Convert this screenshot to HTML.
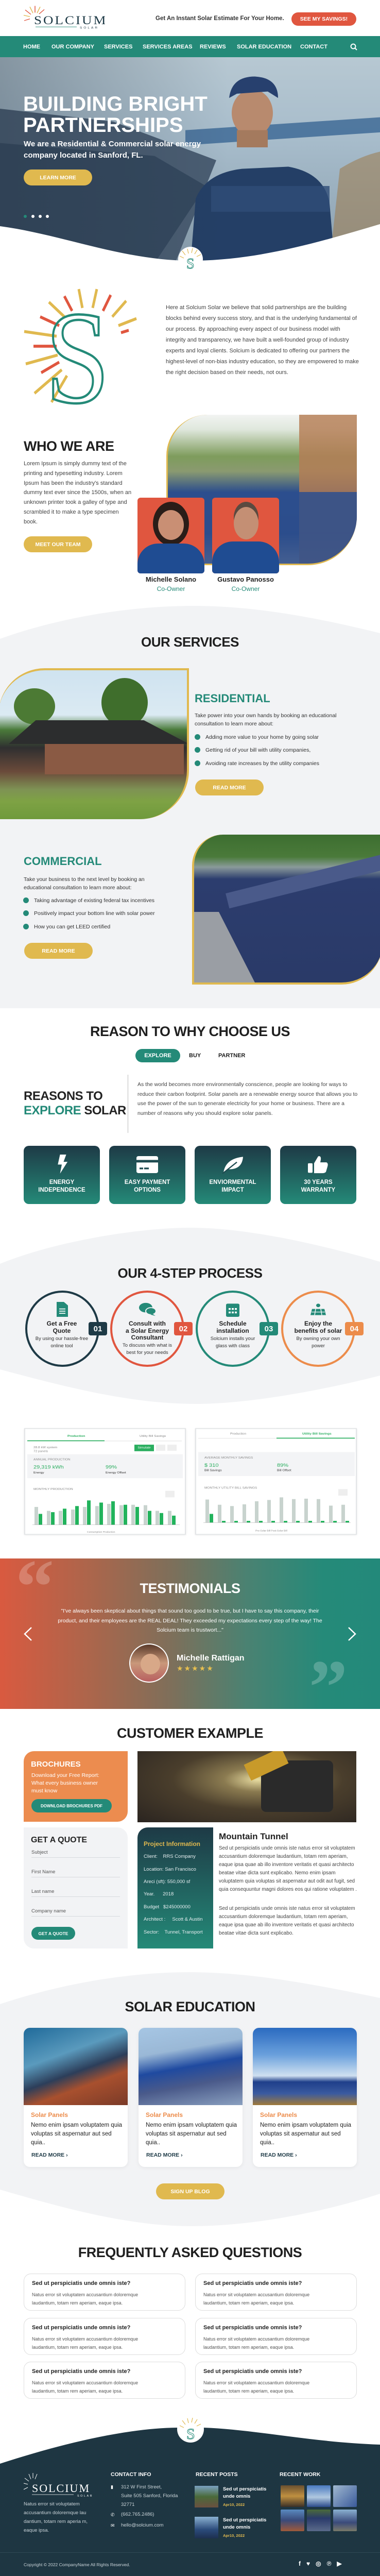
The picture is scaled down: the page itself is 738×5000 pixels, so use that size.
<!DOCTYPE html>
<html><head><meta charset="utf-8">
<style>
*{margin:0;padding:0;box-sizing:border-box}
body{width:738px;height:5000px;position:relative;background:#fff;font-family:"Liberation Sans",sans-serif;color:#222;overflow:hidden}
.a{position:absolute}
.h2{position:absolute;left:0;width:738px;text-align:center;font-weight:bold;font-size:26px;color:#1f1f1f;letter-spacing:-0.5px}
.btn{position:absolute;border-radius:20px;background:#e0b94f;color:#fff;font-weight:bold;font-size:10.5px;text-align:center;display:flex;align-items:center;justify-content:center}
.nav{position:absolute;top:85px;color:#fff;font-weight:bold;font-size:11px}
.bl{position:absolute;font-size:10.5px;color:#333}
.bl:before{content:"";position:absolute;left:-21px;top:0px;width:11px;height:11px;border-radius:50%;background:#248a78}
.card4{position:absolute;top:2224px;width:148px;height:113px;border-radius:10px;background:linear-gradient(#1e3a46,#248a78);color:#fff;font-weight:bold;font-size:11.5px;text-align:center}
.card4 .t{position:absolute;top:64px;width:100%;line-height:15px}
.circ{position:absolute;top:2505px;width:144px;height:148px;border-radius:50%;border:4px solid}
.ct{position:absolute;width:150px;text-align:center;font-size:12px;font-weight:bold;line-height:13.5px;color:#1f1f1f}
.cd{position:absolute;width:150px;text-align:center;font-size:9.5px;line-height:14px;color:#333}
.badge{position:absolute;top:2566px;width:36px;height:26px;border-radius:4px;color:#fff;font-weight:bold;font-size:15px;display:flex;align-items:center;justify-content:center}
.faq{position:absolute;width:314px;height:72px;border:1px solid #ddd;border-radius:14px;background:#fff}
.faq b{position:absolute;left:15px;top:12px;font-size:11px;color:#222}
.faq span{position:absolute;left:15px;top:33px;font-size:9px;color:#555;line-height:15.5px}
.ecard{position:absolute;top:3936px;width:202px;height:270px;background:#fff;border-radius:12px;overflow:hidden;box-shadow:0 2px 8px rgba(0,0,0,.06)}
.ecard .im{position:absolute;left:0;top:0;width:100%;height:150px}
.ecard .s{position:absolute;left:14px;top:162px;color:#ec8c4b;font-weight:bold;font-size:12px}
.ecard .x{position:absolute;left:14px;top:181px;font-size:11.5px;line-height:17px;color:#222;width:185px}
.ecard .r{position:absolute;left:15px;top:241px;font-size:10.5px;color:#1e3a46;font-weight:bold}
.fl{position:absolute;left:61px;width:172px;font-size:9.5px;color:#555}
.fl:after{content:"";position:absolute;left:0;top:15px;width:172px;height:1px;background:#d7d9dd}
.pi{position:absolute;left:279px;font-size:9.5px;color:#e6eef0}
.chart{position:absolute;top:2772px;width:314px;height:245px;background:#fff;border:2px solid #e3e5e7;box-shadow:0 1px 4px rgba(0,0,0,.1);transform:scaleY(.845);transform-origin:top}
.sm{font-size:6.5px;color:#888}
.fw{position:absolute;width:46px;height:42px;border-radius:2px}
</style></head><body>

<!-- HEADER -->
<svg class="a" style="left:44px;top:8px" width="160" height="52" viewBox="0 0 160 60" preserveAspectRatio="none">
 <g stroke-width="1.5">
  <line x1="20" y1="20" x2="14" y2="6" stroke="#e0b94f"/><line x1="24" y1="19" x2="24" y2="4" stroke="#e0563f"/><line x1="28" y1="20" x2="34" y2="6" stroke="#e0b94f"/>
  <line x1="16" y1="23" x2="5" y2="13" stroke="#e0563f"/><line x1="14" y1="28" x2="2" y2="25" stroke="#e0b94f"/><line x1="14" y1="33" x2="3" y2="37" stroke="#e0563f"/><line x1="32" y1="22" x2="42" y2="12" stroke="#e0563f"/>
 </g>
 <text x="22" y="45" font-family="Liberation Serif,serif" font-size="27" fill="#1e3a46" letter-spacing="3">SOLCIUM</text>
 <line x1="25" y1="51" x2="105" y2="51" stroke="#248a78" stroke-width="1"/>
 <text x="111" y="55" font-family="Liberation Sans,sans-serif" font-size="6.5" fill="#1e3a46" letter-spacing="3">SOLAR</text>
</svg>
<div class="a" style="left:302px;top:30px;font-size:11.5px;font-weight:bold;color:#333">Get An Instant Solar Estimate For Your Home.</div>
<div class="btn" style="left:566px;top:24px;width:126px;height:26px;background:#e0563f;font-size:10.5px">SEE MY SAVINGS!</div>
<div class="a" style="left:0;top:70px;width:738px;height:41px;background:#248a78"></div>
<div class="nav" style="left:45px">HOME</div><div class="nav" style="left:100px">OUR COMPANY</div><div class="nav" style="left:202px">SERVICES</div><div class="nav" style="left:277px">SERVICES AREAS</div><div class="nav" style="left:388px">REVIEWS</div><div class="nav" style="left:460px">SOLAR EDUCATION</div><div class="nav" style="left:583px">CONTACT</div>
<svg class="a" style="left:680px;top:84px" width="14" height="14"><circle cx="6" cy="6" r="4.5" stroke="#fff" stroke-width="2" fill="none"/><line x1="9" y1="9" x2="13" y2="13" stroke="#fff" stroke-width="2"/></svg>

<!-- HERO -->
<div class="a" style="left:0;top:111px;width:738px;height:400px;overflow:hidden;background:linear-gradient(180deg,#b7c8d2 0%,#a7bccb 40%,#8a9fae 100%)">
 <svg class="a" style="left:0;top:0" width="738" height="400" viewBox="0 0 738 480" preserveAspectRatio="none">
  <polygon points="0,120 220,150 420,240 340,480 0,480" fill="#4a5d72"/>
  <polygon points="0,200 300,230 400,300 300,480 0,480" fill="#34485e"/>
  <polygon points="360,170 738,140 738,175 360,205" fill="#2a5a8c" opacity=".7"/>
  <path d="M370 480 L380 330 Q400 270 470 260 L560 255 Q630 270 640 340 L650 480Z" fill="#243f66"/>
  <rect x="410" y="300" width="230" height="60" fill="#2f4d78" opacity=".8"/>
  <ellipse cx="490" cy="130" rx="40" ry="55" fill="#b88a6e"/>
  <path d="M445 95 Q450 45 495 45 Q540 48 540 95 L520 80 L460 85Z" fill="#27406e"/>
  <rect x="460" y="170" width="60" height="40" fill="#a47a5e"/>
  <path d="M640 480 L660 260 Q700 230 738 220 L738 480Z" fill="#9c7e55" opacity=".6"/>
 </svg>
 <div class="a" style="left:0;top:0;width:738px;height:400px;background:linear-gradient(90deg,rgba(40,55,70,.35),rgba(40,55,70,0) 60%)"></div>
</div>
<div class="a" style="left:45px;top:182px;color:#fff;font-weight:bold;font-size:40px;line-height:41px">BUILDING BRIGHT<br>PARTNERSHIPS</div>
<div class="a" style="left:46px;top:269px;color:#fff;font-weight:bold;font-size:15px;line-height:22px">We are a Residential &amp; Commercial solar energy<br>company located in Sanford, FL.</div>
<div class="btn" style="left:46px;top:329px;width:133px;height:31px">LEARN MORE</div>
<div class="a" style="left:46px;top:417px;width:6px;height:6px;border-radius:50%;background:#248a78"></div>
<div class="a" style="left:61px;top:417px;width:6px;height:6px;border-radius:50%;background:#fff"></div>
<div class="a" style="left:75px;top:417px;width:6px;height:6px;border-radius:50%;background:#fff"></div>
<div class="a" style="left:89px;top:417px;width:6px;height:6px;border-radius:50%;background:#fff"></div>
<svg class="a" style="left:0;top:420px" width="738" height="120" viewBox="0 420 738 120">
 <path d="M0 439 C120 455 240 506 370 506 C500 506 620 470 738 435 L738 540 L0 540Z" fill="#fff"/>
 <circle cx="370" cy="503" r="24" fill="#fff"/>
 <g stroke="#e0b94f" stroke-width="1.2"><line x1="360" y1="495" x2="354" y2="487"/><line x1="366" y1="492" x2="364" y2="483"/><line x1="372" y1="491" x2="374" y2="482"/><line x1="378" y1="493" x2="383" y2="485"/><line x1="357" y1="501" x2="349" y2="497"/><line x1="382" y1="498" x2="390" y2="494"/></g>
 <text x="362" y="521" font-family="Liberation Serif,serif" font-size="28" fill="none" stroke="#248a78" stroke-width="1">S</text>
</svg>

<!-- ABOUT -->
<svg class="a" style="left:40px;top:552px" width="240" height="240" viewBox="0 0 240 210" preserveAspectRatio="none">
 <g stroke-width="5">
  <line x1="120" y1="40" x2="113" y2="8" stroke="#e0b94f"/><line x1="140" y1="40" x2="148" y2="8" stroke="#e0b94f"/><line x1="100" y1="45" x2="85" y2="20" stroke="#e0563f"/><line x1="160" y1="45" x2="175" y2="18" stroke="#e0563f"/>
  <line x1="85" y1="55" x2="55" y2="30" stroke="#e0b94f"/><line x1="178" y1="55" x2="205" y2="28" stroke="#e0b94f"/><line x1="75" y1="70" x2="38" y2="55" stroke="#e0563f"/><line x1="190" y1="70" x2="225" y2="58" stroke="#e0b94f"/>
  <line x1="70" y1="88" x2="7" y2="80" stroke="#e0b94f"/><line x1="70" y1="105" x2="25" y2="105" stroke="#e0563f"/><line x1="72" y1="120" x2="10" y2="135" stroke="#e0b94f"/><line x1="75" y1="132" x2="40" y2="150" stroke="#e0563f"/>
  <line x1="80" y1="145" x2="27" y2="185" stroke="#e0b94f"/><line x1="90" y1="155" x2="60" y2="200" stroke="#e0b94f"/><line x1="195" y1="82" x2="210" y2="78" stroke="#e0563f"/>
 </g>
 <text x="48" y="200" font-family="Liberation Serif,serif" font-size="225" fill="none" stroke="#248a78" stroke-width="4">S</text>
</svg>
<div class="a" style="left:322px;top:587px;width:380px;font-size:11px;line-height:21px;color:#444">Here at Solcium Solar we believe that solid partnerships are the building blocks behind every success story, and that is the underlying fundamental of our process. By approaching every aspect of our business model with integrity and transparency, we have built a well-founded group of industry experts and loyal clients. Solcium is dedicated to offering our partners the highest-level of non-bias industry education, so they are empowered to make the right decision based on their needs, not ours.</div>

<!-- WHO WE ARE -->
<div class="a" style="left:46px;top:851px;font-size:27px;font-weight:bold;color:#1f1f1f;letter-spacing:-0.5px">WHO WE ARE</div>
<div class="a" style="left:46px;top:891px;width:210px;font-size:11px;line-height:18.8px;color:#444">Lorem Ipsum is simply dummy text of the  printing and typesetting industry. Lorem Ipsum has been the industry's standard dummy text ever since the 1500s, when an unknown printer took a galley of type and scrambled it to make  a type specimen book.</div>
<div class="btn" style="left:46px;top:1041px;width:133px;height:31px">MEET OUR TEAM</div>
<div class="a" style="left:323px;top:805px;width:370px;height:292px;border-left:3px solid #e0b94f;border-bottom:3px solid #e0b94f;border-radius:80px 0 95px 0;overflow:hidden;background:linear-gradient(180deg,#f2f4f2 0%,#dfe7dc 10%,#7e9c5c 28%,#8a9a70 38%,#2c4e8c 52%,#27447c 80%,#c9b8a0 100%)">
 <div class="a" style="left:255px;top:0;width:115px;height:292px;background:linear-gradient(#b8825a,#a9744e);opacity:.85"></div>
 <div class="a" style="left:0;top:150px;width:370px;height:145px;background:#2d4f8e;opacity:.85"></div>
</div>
<div class="a" style="left:267px;top:966px;width:130px;height:147px;border-radius:6px;overflow:hidden;background:#e0563f">
 <div class="a" style="left:30px;top:8px;width:70px;height:85px;border-radius:50%;background:#2a1d18"></div>
 <div class="a" style="left:40px;top:24px;width:50px;height:58px;border-radius:50%;background:#c98f74"></div>
 <div class="a" style="left:0;top:89px;width:130px;height:60px;border-radius:40px 40px 0 0;background:#1f4c92"></div>
</div>
<div class="a" style="left:412px;top:966px;width:130px;height:147px;border-radius:6px;overflow:hidden;background:#e0563f">
 <div class="a" style="left:42px;top:8px;width:48px;height:60px;border-radius:50%;background:#5a4a40"></div>
 <div class="a" style="left:42px;top:18px;width:48px;height:63px;border-radius:50%;background:#c48f74"></div>
 <div class="a" style="left:0;top:85px;width:130px;height:63px;border-radius:40px 40px 0 0;background:#1f4c92"></div>
</div>
<div class="a" style="left:267px;top:1117px;width:130px;text-align:center;font-size:13px;font-weight:bold;color:#222">Michelle Solano</div>
<div class="a" style="left:267px;top:1136px;width:130px;text-align:center;font-size:12px;color:#248a78">Co-Owner</div>
<div class="a" style="left:412px;top:1117px;width:130px;text-align:center;font-size:13px;font-weight:bold;color:#222">Gustavo Panosso</div>
<div class="a" style="left:412px;top:1136px;width:130px;text-align:center;font-size:12px;color:#248a78">Co-Owner</div>

<!-- SERVICES -->
<svg class="a" style="left:0;top:1170px" width="738" height="790" viewBox="0 1170 738 790">
 <path d="M0 1240 C110 1200 250 1176 375 1176 C510 1176 640 1205 738 1229 L738 1957 L0 1957Z" fill="#f2f3f5"/>
</svg>
<div class="h2" style="top:1231px">OUR SERVICES</div>
<div class="a" style="left:-3px;top:1297px;width:370px;height:293px;border-top:4px solid #e0b94f;border-right:4px solid #e0b94f;border-radius:90px 0 95px 0;overflow:hidden;background:linear-gradient(180deg,#cfe3f0 0%,#dbeaf3 30%,#4a7a3a 40%,#2f2f30 52%,#6a4a3a 68%,#7e9254 80%,#7ea244 88%,#6f9a3c 100%)">
 <div class="a" style="left:200px;top:15px;width:90px;height:95px;border-radius:50%;background:#3f6e2c"></div>
 <div class="a" style="left:30px;top:35px;width:80px;height:70px;border-radius:50%;background:#4c7a34"></div>
 <div class="a" style="left:20px;top:97px;width:350px;height:46px;background:#2c2d2e;clip-path:polygon(15% 0,75% 0,100% 100%,0 100%)"></div>
 <div class="a" style="left:90px;top:143px;width:270px;height:59px;background:#8a5a44"></div>
</div>
<div class="a" style="left:378px;top:1343px;font-size:22px;font-weight:bold;color:#248a78">RESIDENTIAL</div>
<div class="a" style="left:378px;top:1381px;width:320px;font-size:10.5px;line-height:16px;color:#333">Take power into your own hands by booking an educational consultation to learn more about:</div>
<div class="bl" style="left:399px;top:1425px">Adding more value to your home by going solar</div>
<div class="bl" style="left:399px;top:1450px">Getting rid of your bill with utility companies,</div>
<div class="bl" style="left:399px;top:1476px">Avoiding rate increases by the utility companies</div>
<div class="btn" style="left:379px;top:1513px;width:133px;height:31px">READ MORE</div>

<div class="a" style="left:46px;top:1659px;font-size:22px;font-weight:bold;color:#248a78">COMMERCIAL</div>
<div class="a" style="left:46px;top:1699px;width:280px;font-size:10.5px;line-height:16px;color:#333">Take your business to the next level by booking an educational consultation to learn more about:</div>
<div class="bl" style="left:66px;top:1742px">Taking advantage of existing federal tax incentives</div>
<div class="bl" style="left:66px;top:1767px">Positively impact your bottom line with solar power</div>
<div class="bl" style="left:66px;top:1793px">How you can get LEED certified</div>
<div class="btn" style="left:47px;top:1830px;width:133px;height:31px">READ MORE</div>
<div class="a" style="left:373px;top:1620px;width:370px;height:291px;border-left:4px solid #e0b94f;border-bottom:4px solid #e0b94f;border-radius:60px 0 80px 0;overflow:hidden;background:linear-gradient(180deg,#3d6e30 0%,#4a7a3a 15%,#8a9a9a 22%,#2c3d6e 30%,#2a3a68 100%)">
 <div class="a" style="left:0;top:150px;width:120px;height:141px;background:#9a9ea4;clip-path:polygon(0 0,40% 0,100% 100%,0 100%)"></div>
 <div class="a" style="left:60px;top:75px;width:320px;height:30px;background:#4a5a8a;transform:rotate(-14deg)"></div>
</div>

<!-- REASONS -->
<div class="h2" style="top:1987px;font-size:27px">REASON TO WHY CHOOSE US</div>
<div class="btn" style="left:263px;top:2036px;width:87px;height:26px;background:#248a78;font-size:11px">EXPLORE</div>
<div class="a" style="left:367px;top:2043px;font-size:11px;font-weight:bold;color:#222">BUY</div>
<div class="a" style="left:424px;top:2043px;font-size:11px;font-weight:bold;color:#222">PARTNER</div>
<div class="a" style="left:46px;top:2114px;font-size:24px;font-weight:bold;color:#222;line-height:28px;letter-spacing:-0.5px">REASONS TO<br><span style="color:#248a78">EXPLORE</span> SOLAR</div>
<div class="a" style="left:248px;top:2086px;width:1px;height:113px;background:#bbb"></div>
<div class="a" style="left:267px;top:2096px;width:430px;font-size:10.5px;line-height:18.7px;color:#444">As the world becomes more environmentally conscience, people are looking for ways to reduce their carbon footprint. Solar panels are a renewable energy source that allows you to use the power of the sun to generate electricity for your home or business. There are a number of reasons why you should explore solar panels.</div>
<div class="card4" style="left:46px"><svg class="a" style="left:62px;top:17px" width="24" height="37" viewBox="0 0 28 42" preserveAspectRatio="none"><polygon points="10,0 24,0 18,16 27,16 10,42 14,22 5,22" fill="#fff"/></svg><div class="t">ENERGY<br>INDEPENDENCE</div></div>
<div class="card4" style="left:212px"><svg class="a" style="left:53px;top:20px" width="42" height="33" viewBox="0 0 42 40" preserveAspectRatio="none"><rect x="0" y="0" width="42" height="40" rx="4" fill="#fff"/><rect x="0" y="9" width="42" height="6" fill="#1e4b50"/><rect x="6" y="27" width="7" height="4" fill="#1e4b50"/><rect x="15" y="27" width="9" height="4" fill="#1e4b50"/></svg><div class="t">EASY PAYMENT<br>OPTIONS</div></div>
<div class="card4" style="left:378px"><svg class="a" style="left:52px;top:18px" width="44" height="36" viewBox="0 0 44 42" preserveAspectRatio="none"><path d="M4 40 Q8 8 42 4 Q40 34 12 32Z" fill="#fff"/><path d="M2 42 L30 16" stroke="#1e4b50" stroke-width="2.5"/></svg><div class="t">ENVIORMENTAL<br>IMPACT</div></div>
<div class="card4" style="left:544px"><svg class="a" style="left:54px;top:17px" width="40" height="37" viewBox="0 0 40 44" preserveAspectRatio="none"><rect x="0" y="20" width="9" height="22" rx="2" fill="#fff"/><path d="M12 20 L20 4 Q26 2 25 12 L24 18 L36 18 Q40 20 38 28 L35 40 Q33 43 28 43 L12 43Z" fill="#fff"/></svg><div class="t">30 YEARS<br>WARRANTY</div></div>

<!-- 4 STEP -->
<svg class="a" style="left:0;top:2375px" width="738" height="360" viewBox="0 2375 738 360">
 <path d="M0 2453 C120 2405 280 2383 370 2383 C480 2383 620 2415 738 2449 L738 2670 C620 2700 480 2725 380 2725 C250 2725 120 2690 0 2658Z" fill="#f2f3f5"/>
</svg>
<div class="h2" style="top:2456px">OUR 4-STEP PROCESS</div>
<div class="circ" style="left:49px;border-color:#1e3a46"></div>
<div class="circ" style="left:214px;border-color:#e0563f"></div>
<div class="circ" style="left:380px;border-color:#248a78"></div>
<div class="circ" style="left:546px;border-color:#ec8c4b"></div>
<div class="badge" style="left:172px;background:#1e3a46">01</div>
<div class="badge" style="left:338px;background:#e0563f">02</div>
<div class="badge" style="left:504px;background:#248a78">03</div>
<div class="badge" style="left:670px;background:#ec8c4b">04</div>
<svg class="a" style="left:110px;top:2527px" width="22" height="29" viewBox="0 0 22 34" preserveAspectRatio="none"><path d="M0 0 H14 L22 8 V34 H0Z" fill="#248a78"/><g stroke="#fff" stroke-width="2"><line x1="5" y1="16" x2="17" y2="16"/><line x1="5" y1="21" x2="17" y2="21"/><line x1="5" y1="26" x2="17" y2="26"/></g></svg>
<svg class="a" style="left:270px;top:2528px" width="34" height="27" viewBox="0 0 34 32" preserveAspectRatio="none"><ellipse cx="13" cy="12" rx="13" ry="11" fill="#248a78"/><ellipse cx="23" cy="20" rx="10" ry="8" fill="#248a78" stroke="#f2f3f5" stroke-width="2"/><polygon points="26,26 32,31 22,28" fill="#248a78"/></svg>
<svg class="a" style="left:439px;top:2527px" width="26" height="29" viewBox="0 0 26 34" preserveAspectRatio="none"><rect x="0" y="4" width="26" height="30" rx="3" fill="#248a78"/><g fill="#fff"><rect x="5" y="14" width="4" height="4"/><rect x="11" y="14" width="4" height="4"/><rect x="17" y="14" width="4" height="4"/><rect x="5" y="22" width="4" height="4"/><rect x="11" y="22" width="4" height="4"/><rect x="17" y="22" width="4" height="4"/></g></svg>
<svg class="a" style="left:603px;top:2527px" width="30" height="29" viewBox="0 0 30 34" preserveAspectRatio="none"><circle cx="15" cy="8" r="4" fill="#248a78"/><polygon points="3,16 27,16 30,30 0,30" fill="#248a78"/><g stroke="#f2f3f5" stroke-width="1.5"><line x1="10" y1="16" x2="8" y2="30"/><line x1="20" y1="16" x2="22" y2="30"/><line x1="2" y1="23" x2="28" y2="23"/></g></svg>
<div class="ct" style="left:45px;top:2563px">Get a Free<br>Quote</div><div class="cd" style="left:45px;top:2592px">By using our hassle-free<br>online tool</div>
<div class="ct" style="left:211px;top:2563px">Consult with<br>a Solar Energy<br>Consultant</div><div class="cd" style="left:211px;top:2605px">To discuss with what is<br>best for your needs</div>
<div class="ct" style="left:377px;top:2563px">Schedule<br>installation</div><div class="cd" style="left:377px;top:2592px">Solcium installs your<br>glass with class</div>
<div class="ct" style="left:543px;top:2563px">Enjoy the<br>benefits of solar</div><div class="cd" style="left:543px;top:2592px">By owning your own<br>power</div>

<!-- CHARTS -->
<div class="chart" style="left:47px">
 <div class="a sm" style="left:82px;top:13px;color:#2aae5f;font-weight:bold">Production</div>
 <div class="a sm" style="left:222px;top:13px">Utility Bill Savings</div>
 <div class="a" style="left:4px;top:26px;width:150px;height:2px;background:#2aae5f"></div>
 <div class="a" style="left:154px;top:27px;width:150px;height:1px;background:#ddd"></div>
 <div class="a sm" style="left:16px;top:38px;line-height:9px">28.8 kW system<br>72 panels</div>
 <div class="a" style="left:212px;top:36px;width:38px;height:15px;background:#2aae5f;color:#fff;font-size:6.5px;text-align:center;line-height:15px">Simulate</div>
 <div class="a" style="left:254px;top:36px;width:18px;height:14px;background:#eee"></div><div class="a" style="left:276px;top:36px;width:18px;height:14px;background:#eee"></div>
 <div class="a" style="left:4px;top:58px;width:302px;height:55px;background:#f3f4f6"></div>
 <div class="a sm" style="left:16px;top:67px">ANNUAL PRODUCTION</div>
 <div class="a" style="left:16px;top:82px;font-size:11px;color:#2aae5f">29,319 kWh</div><div class="a sm" style="left:16px;top:97px;color:#333">Energy</div>
 <div class="a" style="left:156px;top:82px;font-size:11px;color:#2aae5f">99%</div><div class="a sm" style="left:156px;top:97px;color:#333">Energy Offset</div>
 <div class="a sm" style="left:16px;top:135px">MONTHLY PRODUCTION</div>
 <div class="a" style="left:272px;top:142px;width:18px;height:15px;background:#eee"></div>
 <svg class="a" style="left:0;top:150px" width="310" height="92">
  <g fill="#c8d3ce"><rect x="18" y="29" width="7" height="41"/><rect x="42" y="38" width="7" height="32"/><rect x="65" y="38" width="7" height="32"/><rect x="89" y="35" width="7" height="35"/><rect x="112" y="29" width="7" height="41"/><rect x="136" y="27" width="7" height="43"/><rect x="159" y="22" width="7" height="48"/><rect x="183" y="25" width="7" height="45"/><rect x="206" y="24" width="7" height="46"/><rect x="230" y="25" width="7" height="45"/><rect x="253" y="38" width="7" height="32"/><rect x="277" y="38" width="7" height="32"/></g>
  <g fill="#22b35c"><rect x="26" y="45" width="7" height="25"/><rect x="50" y="41" width="7" height="29"/><rect x="73" y="33" width="7" height="37"/><rect x="97" y="27" width="7" height="43"/><rect x="120" y="14" width="7" height="56"/><rect x="144" y="19" width="7" height="51"/><rect x="167" y="16" width="7" height="54"/><rect x="191" y="24" width="7" height="46"/><rect x="214" y="29" width="7" height="41"/><rect x="238" y="38" width="7" height="32"/><rect x="261" y="43" width="7" height="27"/><rect x="285" y="49" width="7" height="21"/></g>
  <line x1="14" y1="70" x2="300" y2="70" stroke="#999" stroke-width=".5"/>
  <text x="120" y="88" font-size="5" fill="#888" font-family="Liberation Sans">Consumption  Production</text>
 </svg>
</div>
<div class="chart" style="left:379px">
 <div class="a sm" style="left:66px;top:8px">Production</div>
 <div class="a sm" style="left:206px;top:8px;color:#2aae5f;font-weight:bold">Utility Bill Savings</div>
 <div class="a" style="left:4px;top:21px;width:152px;height:1px;background:#ddd"></div>
 <div class="a" style="left:156px;top:20px;width:152px;height:2px;background:#2aae5f"></div>
 <div class="a" style="left:4px;top:53px;width:304px;height:55px;background:#f3f4f6"></div>
 <div class="a sm" style="left:16px;top:63px">AVERAGE MONTHLY SAVINGS</div>
 <div class="a" style="left:16px;top:78px;font-size:11px;color:#2aae5f">$ 310</div><div class="a sm" style="left:16px;top:92px;color:#333">Bill Savings</div>
 <div class="a" style="left:157px;top:78px;font-size:11px;color:#2aae5f">89%</div><div class="a sm" style="left:157px;top:92px;color:#333">Bill Offset</div>
 <div class="a sm" style="left:16px;top:132px">MONTHLY UTILITY BILL SAVINGS</div>
 <div class="a" style="left:276px;top:138px;width:18px;height:15px;background:#eee"></div>
 <svg class="a" style="left:0;top:150px" width="310" height="92">
  <g fill="#c8d3ce"><rect x="18" y="12" width="7" height="53"/><rect x="42" y="24" width="7" height="41"/><rect x="66" y="27" width="7" height="38"/><rect x="90" y="23" width="7" height="42"/><rect x="114" y="16" width="7" height="49"/><rect x="138" y="13" width="7" height="52"/><rect x="162" y="7" width="7" height="58"/><rect x="186" y="11" width="7" height="54"/><rect x="210" y="10" width="7" height="55"/><rect x="234" y="11" width="7" height="54"/><rect x="258" y="26" width="7" height="39"/><rect x="282" y="24" width="7" height="41"/></g>
  <g fill="#22b35c"><rect x="26" y="45" width="7" height="20"/><rect x="50" y="61" width="7" height="4"/><rect x="74" y="61" width="7" height="4"/><rect x="98" y="61" width="7" height="4"/><rect x="122" y="61" width="7" height="4"/><rect x="146" y="61" width="7" height="4"/><rect x="170" y="61" width="7" height="4"/><rect x="194" y="61" width="7" height="4"/><rect x="218" y="61" width="7" height="4"/><rect x="242" y="61" width="7" height="4"/><rect x="266" y="61" width="7" height="4"/><rect x="290" y="61" width="7" height="4"/></g>
  <line x1="14" y1="65" x2="300" y2="65" stroke="#999" stroke-width=".5"/>
  <text x="115" y="85" font-size="5" fill="#888" font-family="Liberation Sans">Pre-Solar Bill  Post-Solar Bill</text>
 </svg>
</div>

<!-- TESTIMONIALS -->
<div class="a" style="left:0;top:3025px;width:738px;height:292px;overflow:hidden;background:linear-gradient(90deg,#d95a40 0%,#a9664c 25%,#7e6f5a 45%,#4a8272 65%,#258a79 85%,#23897a 100%)">
 <div class="a" style="left:30px;top:-20px;font-size:150px;font-family:'Liberation Serif',serif;font-weight:bold;color:rgba(255,255,255,.22);line-height:150px">&ldquo;</div>
 <div class="a" style="left:600px;top:175px;font-size:150px;font-family:'Liberation Serif',serif;font-weight:bold;color:rgba(255,255,255,.22);line-height:150px">&rdquo;</div>
</div>
<div class="h2" style="top:3068px;color:#fff;font-size:27px">TESTIMONIALS</div>
<div class="a" style="left:100px;top:3118px;width:538px;text-align:center;color:#fff;font-size:10.5px;line-height:18.5px">"I've always been skeptical about things that sound too good to be true, but I have to say this company, their product, and their employees are the REAL DEAL! They exceeded my expectations every step of the way! The Solcium team is trustwort..."</div>
<svg class="a" style="left:45px;top:3157px" width="20" height="29"><polyline points="16,2 3,14.5 16,27" fill="none" stroke="#fff" stroke-width="2.5"/></svg>
<svg class="a" style="left:673px;top:3157px" width="20" height="29"><polyline points="4,2 17,14.5 4,27" fill="none" stroke="#fff" stroke-width="2.5"/></svg>
<div class="a" style="left:251px;top:3190px;width:77px;height:76px;border-radius:50%;border:2px solid #fff;overflow:hidden;background:linear-gradient(#5a3a2a,#c9987a 50%,#b86060)"><div class="a" style="left:20px;top:18px;width:38px;height:40px;border-radius:50%;background:#d8a888"></div></div>
<div class="a" style="left:343px;top:3210px;color:#fff;font-weight:bold;font-size:16px">Michelle Rattigan</div>
<div class="a" style="left:343px;top:3230px;color:#e8c04f;font-size:14px;letter-spacing:2px">★★★★★</div>

<!-- CUSTOMER EXAMPLE -->
<div class="h2" style="top:3349px;font-size:27px">CUSTOMER EXAMPLE</div>
<div class="a" style="left:46px;top:3399px;width:202px;height:137px;background:#ec8c4f;border-radius:20px 0 20px 0"></div>
<div class="a" style="left:60px;top:3416px;color:#fff;font-size:15px;font-weight:bold">BROCHURES</div>
<div class="a" style="left:61px;top:3439px;color:#fff;font-size:10.5px;line-height:15px">Download your Free Report:<br>What every business owner<br>must know</div>
<div class="btn" style="left:61px;top:3492px;width:156px;height:26px;background:#248a78;font-size:8px">DOWNLOAD BROCHURES PDF</div>
<div class="a" style="left:267px;top:3399px;width:425px;height:138px;overflow:hidden;background:radial-gradient(ellipse at 55% 40%,#e8dca0 0%,#8a7a50 20%,#4a3e2c 50%,#2a2420 100%)">
 <div class="a" style="left:240px;top:18px;width:140px;height:100px;background:#2a2a2a;border-radius:10px"></div>
 <div class="a" style="left:210px;top:8px;width:80px;height:34px;background:#c89a2a;transform:rotate(-25deg)"></div>
</div>
<div class="a" style="left:46px;top:3547px;width:202px;height:235px;background:#f2f3f5;border-radius:0 20px 0 20px"></div>
<div class="a" style="left:60px;top:3563px;font-size:16px;font-weight:bold;color:#222">GET A QUOTE</div>
<div class="fl" style="top:3590px">Subject</div>
<div class="fl" style="top:3628px">First Name</div>
<div class="fl" style="top:3666px">Last name</div>
<div class="fl" style="top:3704px">Company name</div>
<div class="btn" style="left:61px;top:3740px;width:85px;height:25px;background:#248a78;font-size:8.5px">GET A QUOTE</div>
<div class="a" style="left:267px;top:3547px;width:147px;height:235px;border-radius:20px 0 0 0;background:linear-gradient(#1e3a46,#248a78)"></div>
<div class="a" style="left:279px;top:3572px;color:#e0b94f;font-size:12px;font-weight:bold">Project Information</div>
<div class="pi" style="top:3598px">Client:&nbsp;&nbsp;&nbsp; RRS Company</div>
<div class="pi" style="top:3623px">Location: San Francisco</div>
<div class="pi" style="top:3647px">Areci (sft): 550,000 sf</div>
<div class="pi" style="top:3671px">Year.&nbsp;&nbsp;&nbsp;&nbsp;&nbsp; 2018</div>
<div class="pi" style="top:3696px">Budget&nbsp;&nbsp; $245000000</div>
<div class="pi" style="top:3720px">Architect :&nbsp;&nbsp;&nbsp;&nbsp; Scott &amp; Austin</div>
<div class="pi" style="top:3745px">Sector:&nbsp;&nbsp;&nbsp; Tunnel, Transport</div>
<div class="a" style="left:425px;top:3555px;font-size:17px;font-weight:bold;color:#222">Mountain Tunnel</div>
<div class="a" style="left:425px;top:3580px;width:270px;font-size:9.8px;line-height:15.9px;color:#444">Sed ut perspiciatis unde omnis iste natus error sit voluptatem accusantium doloremque laudantium, totam rem aperiam, eaque ipsa quae ab illo inventore veritatis et quasi architecto beatae vitae dicta sunt explicabo. Nemo enim ipsam voluptatem quia voluptas sit aspernatur aut odit aut fugit, sed quia consequuntur magni dolores eos qui ratione voluptatem .</div>
<div class="a" style="left:425px;top:3697px;width:270px;font-size:9.8px;line-height:15.9px;color:#444">Sed ut perspiciatis unde omnis iste natus error sit voluptatem accusantium doloremque laudantium, totam rem aperiam, eaque ipsa quae ab illo inventore veritatis et quasi architecto beatae vitae dicta sunt explicabo.</div>

<!-- SOLAR EDUCATION -->
<svg class="a" style="left:0;top:3820px" width="738" height="510" viewBox="0 3820 738 510">
 <path d="M0 3890 C120 3850 250 3828 370 3828 C500 3828 640 3858 738 3878 L738 4258 C640 4290 500 4321 370 4321 C250 4321 120 4285 0 4250Z" fill="#f2f3f5"/>
</svg>
<div class="h2" style="top:3880px;font-size:27px">SOLAR EDUCATION</div>
<div class="ecard" style="left:46px"><div class="im" style="background:linear-gradient(160deg,#1f6a9a 0%,#5a9abd 35%,#2c3e5a 55%,#a8502e 70%,#7a3a28 100%)"></div><div class="s">Solar Panels</div><div class="x">Nemo enim ipsam voluptatem quia voluptas sit aspernatur aut sed quia..</div><div class="r">READ MORE ›</div></div>
<div class="ecard" style="left:269px"><div class="im" style="background:linear-gradient(170deg,#a6c6e4 0%,#9ab8d6 30%,#1f4aa0 50%,#4a5a8a 70%,#8aa0c0 100%)"></div><div class="s">Solar Panels</div><div class="x">Nemo enim ipsam voluptatem quia voluptas sit aspernatur aut sed quia..</div><div class="r">READ MORE ›</div></div>
<div class="ecard" style="left:491px"><div class="im" style="background:linear-gradient(180deg,#2a6ac0 0%,#6aa0dc 35%,#cfe0f0 62%,#1f3f8a 70%,#3a5aa0 85%,#a07a3a 100%)"></div><div class="s">Solar Panels</div><div class="x">Nemo enim ipsam voluptatem quia voluptas sit aspernatur aut sed quia..</div><div class="r">READ MORE ›</div></div>
<div class="btn" style="left:303px;top:4238px;width:133px;height:31px">SIGN UP BLOG</div>

<!-- FAQ -->
<div class="h2" style="top:4357px;font-size:27px">FREQUENTLY ASKED QUESTIONS</div>
<div class="faq" style="left:46px;top:4413px"><b>Sed ut perspiciatis unde omnis iste?</b><span>Natus error sit  voluptatem accusantium doloremque<br>laudantium, totam rem aperiam, eaque ipsa.</span></div>
<div class="faq" style="left:379px;top:4413px"><b>Sed ut perspiciatis unde omnis iste?</b><span>Natus error sit  voluptatem accusantium doloremque<br>laudantium, totam rem aperiam, eaque ipsa.</span></div>
<div class="faq" style="left:46px;top:4499px"><b>Sed ut perspiciatis unde omnis iste?</b><span>Natus error sit  voluptatem accusantium doloremque<br>laudantium, totam rem aperiam, eaque ipsa.</span></div>
<div class="faq" style="left:379px;top:4499px"><b>Sed ut perspiciatis unde omnis iste?</b><span>Natus error sit  voluptatem accusantium doloremque<br>laudantium, totam rem aperiam, eaque ipsa.</span></div>
<div class="faq" style="left:46px;top:4584px"><b>Sed ut perspiciatis unde omnis iste?</b><span>Natus error sit  voluptatem accusantium doloremque<br>laudantium, totam rem aperiam, eaque ipsa.</span></div>
<div class="faq" style="left:379px;top:4584px"><b>Sed ut perspiciatis unde omnis iste?</b><span>Natus error sit  voluptatem accusantium doloremque<br>laudantium, totam rem aperiam, eaque ipsa.</span></div>

<!-- FOOTER -->
<svg class="a" style="left:0;top:4680px" width="738" height="320" viewBox="0 4680 738 320">
 <path d="M0 4782 C130 4740 250 4713 345 4712 L395 4712 C500 4716 600 4740 738 4745 L738 5000 L0 5000Z" fill="#1e3642"/>
 <circle cx="370" cy="4715" r="26" fill="#fff"/>
 <g stroke="#e0b94f" stroke-width="1.2"><line x1="360" y1="4706" x2="354" y2="4698"/><line x1="366" y1="4703" x2="364" y2="4694"/><line x1="372" y1="4702" x2="374" y2="4693"/><line x1="378" y1="4704" x2="383" y2="4696"/><line x1="357" y1="4712" x2="349" y2="4708"/><line x1="382" y1="4709" x2="390" y2="4705"/></g>
 <text x="362" y="4734" font-family="Liberation Serif,serif" font-size="30" fill="none" stroke="#248a78" stroke-width="1">S</text>
 <g stroke="#fff" stroke-width="1"><line x1="60" y1="4812" x2="56" y2="4802"/><line x1="64" y1="4810" x2="64" y2="4800"/><line x1="68" y1="4812" x2="72" y2="4802"/><line x1="56" y1="4816" x2="48" y2="4810"/><line x1="54" y1="4822" x2="46" y2="4820"/><line x1="54" y1="4828" x2="46" y2="4832"/></g>
 <text x="62" y="4837" font-family="Liberation Serif,serif" font-size="22" fill="#fff" letter-spacing="2">SOLCIUM</text>
 <line x1="62" y1="4842" x2="143" y2="4842" stroke="#fff" stroke-width=".8"/>
 <text x="150" y="4846" font-family="Liberation Sans" font-size="5.5" fill="#fff" letter-spacing="2.5">SOLAR</text>
</svg>
<div class="a" style="left:46px;top:4852px;width:150px;font-size:9.5px;line-height:17px;color:#c9d3d8">Natus error sit  voluptatem accusantium doloremque  lau dantium, totam rem aperia m, eaque ipsa.</div>
<div class="a" style="left:215px;top:4797px;color:#fff;font-weight:bold;font-size:10.5px">CONTACT INFO</div>
<div class="a" style="left:215px;top:4822px;color:#fff;font-size:9px">▮</div>
<div class="a" style="left:235px;top:4819px;font-size:9.5px;line-height:17px;color:#c9d3d8">312 W First Street,<br>Suite 505 Sanford, Florida<br>32771</div>
<div class="a" style="left:215px;top:4876px;color:#fff;font-size:9px">✆</div>
<div class="a" style="left:235px;top:4875px;font-size:9.5px;color:#c9d3d8">(662.765.2486)</div>
<div class="a" style="left:215px;top:4897px;color:#fff;font-size:9px">✉</div>
<div class="a" style="left:235px;top:4896px;font-size:9.5px;color:#c9d3d8">hello@solcium.com</div>
<div class="a" style="left:380px;top:4797px;color:#fff;font-weight:bold;font-size:10.5px">RECENT POSTS</div>
<div class="a" style="left:378px;top:4825px;width:46px;height:42px;background:linear-gradient(#7aa0c0,#4a6a3a 50%,#6a5040)"></div>
<div class="a" style="left:433px;top:4825px;color:#fff;font-weight:bold;font-size:9.5px;line-height:14px">Sed ut perspiciatis<br>unde omnis</div>
<div class="a" style="left:433px;top:4857px;color:#e0b94f;font-weight:bold;font-size:7.5px">Apr10, 2022</div>
<div class="a" style="left:378px;top:4885px;width:46px;height:42px;background:linear-gradient(#8ab0d0,#2a4a7a 60%,#1e3050)"></div>
<div class="a" style="left:433px;top:4885px;color:#fff;font-weight:bold;font-size:9.5px;line-height:14px">Sed ut perspiciatis<br>unde omnis</div>
<div class="a" style="left:433px;top:4917px;color:#e0b94f;font-weight:bold;font-size:7.5px">Apr10, 2022</div>
<div class="a" style="left:543px;top:4797px;color:#fff;font-weight:bold;font-size:10.5px">RECENT WORK</div>
<div class="fw" style="left:545px;top:4824px;background:linear-gradient(#6a5030,#c09040 50%,#3a3028)"></div>
<div class="fw" style="left:596px;top:4824px;background:linear-gradient(#4a7ac0,#b0c8e0 55%,#2a4a8a)"></div>
<div class="fw" style="left:647px;top:4824px;background:linear-gradient(135deg,#a0b8d0,#3a5a9a)"></div>
<div class="fw" style="left:545px;top:4871px;background:linear-gradient(#5a8ac0,#3a4a7a 50%,#a05a3a)"></div>
<div class="fw" style="left:596px;top:4871px;background:linear-gradient(#4a6a3a,#2a3a6a 40%,#5a6a8a)"></div>
<div class="fw" style="left:647px;top:4871px;background:linear-gradient(#8ab0d0,#3a4a7a 60%,#7a7a6a)"></div>
<div class="a" style="left:0;top:4954px;width:738px;height:1px;background:#2f4a56"></div>
<div class="a" style="left:46px;top:4973px;font-size:8.5px;color:#c9d3d8">Copyright © 2022 CompanyName All Rights Reserved.</div>
<div class="a" style="left:580px;top:4969px;color:#fff;font-size:12px;font-weight:bold;letter-spacing:11px">f♥◎℗▶</div>
</body></html>
